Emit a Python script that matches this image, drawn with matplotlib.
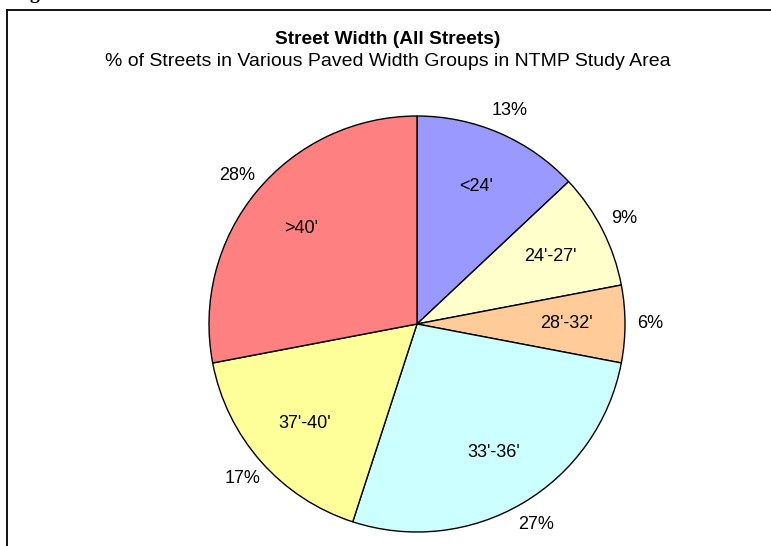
import matplotlib.pyplot as plt
from matplotlib.lines import Line2D

plt.rcParams['font.family'] = ['Liberation Sans', 'DejaVu Sans']

# data
groups = ["<24'", "24'-27'", "28'-32'", "33'-36'", "37'-40'", ">40'"]
shares = [13, 9, 6, 27, 17, 28]
colors = ["#9999FF", "#FFFFCC", "#FFCC99", "#CCFFFF", "#FFFF99", "#FF8080"]

title = "Street Width (All Streets)"
subtitle = "% of Streets in Various Paved Width Groups in NTMP Study Area"

W, H = 771, 546
fig = plt.figure(figsize=(W / 100, H / 100), dpi=100)

# pie centre and radius in pixels
cx, cy, r = 417, 324, 208
ax = fig.add_axes([(cx - r) / W, (H - cy - r) / H, 2 * r / W, 2 * r / H])

wedges, texts, autotexts = ax.pie(
    shares, labels=groups, colors=colors, startangle=90, counterclock=False,
    autopct=lambda p: f"{p:.0f}%", labeldistance=0.72, pctdistance=1.12,
    wedgeprops=dict(edgecolor="black", linewidth=1.0),
    textprops=dict(fontsize=13, color="black"))
for t in texts:
    t.set_horizontalalignment("center")
    t.set_verticalalignment("center")
ax.set_xlim(-1, 1)
ax.set_ylim(-1, 1)
ax.axis("off")
for w in wedges:
    w.set_clip_on(False)

fig.text(388 / W, 1 - 40 / H, title, ha="center", va="center",
         fontsize=13.8, fontweight="bold")
fig.text(388 / W, 1 - 62 / H, subtitle, ha="center", va="center", fontsize=14)

# frame of the chart area (runs off the right and bottom edges)
fig.add_artist(Line2D([7 / W, 1.01], [1 - 10 / H] * 2, color="black", lw=1.3))
fig.add_artist(Line2D([7 / W] * 2, [1 - 10 / H, -0.01], color="black", lw=1.3))

# descender of the cropped caption above the chart
fig.text(29 / W, 1 + 1 / H, "g", ha="left", va="baseline", fontsize=14,
         fontweight="bold", family="Liberation Serif")

fig.savefig("out.png", dpi=100)
